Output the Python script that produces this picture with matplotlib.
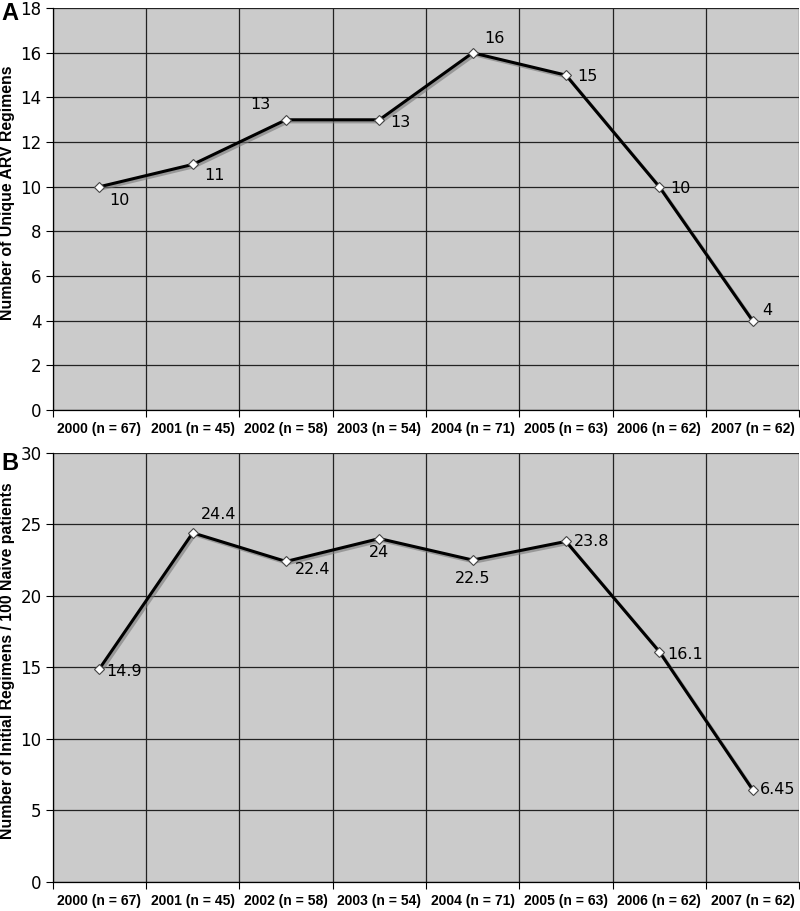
import matplotlib
matplotlib.use("Agg")
import matplotlib.pyplot as plt
import matplotlib.patheffects as pe
import numpy as np

categories = ["2000 (n = 67)", "2001 (n = 45)", "2002 (n = 58)", "2003 (n = 54)",
              "2004 (n = 71)", "2005 (n = 63)", "2006 (n = 62)", "2007 (n = 62)"]
unique_regimens = [10, 11, 13, 13, 16, 15, 10, 4]
unique_labels = ["10", "11", "13", "13", "16", "15", "10", "4"]
initial_per100 = [14.9, 24.4, 22.4, 24, 22.5, 23.8, 16.1, 6.45]
initial_labels = ["14.9", "24.4", "22.4", "24", "22.5", "23.8", "16.1", "6.45"]

# label offsets (points) for each data label
offs_a = [(7, -10), (8, -8), (-11, 11), (8, -2), (8, 10), (8, -1), (8, -1), (7, 7)]
offs_b = [(5, -2), (6, 13), (6, -6), (0, -10), (0, -13), (6, 0), (6, -2), (5, 0)]

BG = "#cbcbcb"


def panel(ax, vals, labels, offs, ymax, ystep, ylabel, label_y, letter, letter_y):
    x = np.arange(len(vals))
    ax.set_facecolor(BG)
    ax.plot(x, vals, color="black", lw=2.2, zorder=3,
            path_effects=[pe.SimpleLineShadow(offset=(1.5, -1.5), shadow_color="#777777", alpha=0.6),
                          pe.Normal()])
    ax.plot(x, vals, ls="none", marker="D", ms=5.5, mfc="white", mec="#444444", mew=0.8, zorder=4)
    for xi, v, t, o in zip(x, vals, labels, offs):
        ax.annotate(t, (xi, v), xytext=o, textcoords="offset points",
                    ha="left" if o[0] > 0 else ("center" if o[0] == 0 else "right"),
                    va="center", fontsize=11.5, family="DejaVu Sans", zorder=5)
    ax.set_xlim(-0.5, len(vals) - 0.5)
    ax.set_ylim(0, ymax)
    ax.set_yticks(np.arange(0, ymax + 0.1, ystep))
    ax.set_xticks(np.arange(len(vals) + 1) - 0.5, minor=False)
    ax.set_xticklabels([])
    ax.set_xticks(x, minor=True)
    ax.set_xticklabels(categories, minor=True, fontweight="bold", fontsize=10,
                       family="Liberation Sans")
    ax.tick_params(axis="x", which="minor", length=0, pad=9)
    ax.tick_params(axis="x", which="major", length=5, width=0.8, direction="out")
    ax.tick_params(axis="y", length=5, width=0.8, direction="out", labelsize=12, pad=3)
    for lab in ax.get_yticklabels():
        lab.set_family("DejaVu Sans")
    ax.grid(True, which="major", color="#222222", lw=0.9)
    for s in ["top", "right"]:
        ax.spines[s].set_visible(False)
    ax.spines["left"].set_linewidth(0.9)
    ax.spines["bottom"].set_linewidth(0.9)
    ax.set_ylabel(ylabel, fontweight="bold", fontsize=11.4, family="Liberation Sans")
    ax.yaxis.set_label_coords(-0.050, label_y)
    ax.set_axisbelow(True)
    fig.text(0.002, letter_y, letter, fontsize=17, fontweight="bold",
             family="Liberation Sans", ha="left", va="center")


fig = plt.figure(figsize=(8, 9.11), dpi=100)
ax1 = fig.add_axes([0.066, 0.550, 0.933, 0.441])
ax2 = fig.add_axes([0.066, 0.032, 0.933, 0.471])
panel(ax1, unique_regimens, unique_labels, offs_a, 18, 2, "Number of Unique ARV Regimens", 0.54,
      "A", 1 - 13 / 911)
panel(ax2, initial_per100, initial_labels, offs_b, 30, 5,
      "Number of Initial Regimens / 100 Naive patients", 0.516, "B", 1 - 464 / 911)

fig.savefig("out.png", dpi=100)
